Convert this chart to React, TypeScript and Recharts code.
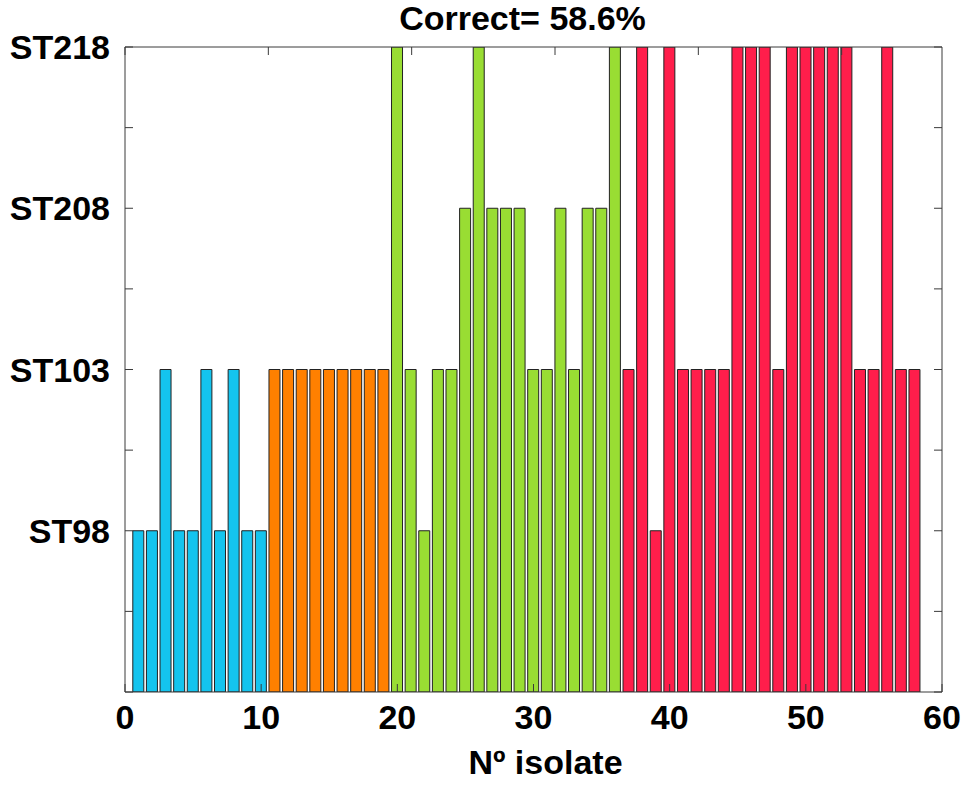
import { BarChart, Bar, XAxis, YAxis, Cell } from 'recharts'

// sequence type per isolate, grouped by predicted cluster (1 = ST98 ... 4 = ST218)
const clusterBlue = [1, 1, 2, 1, 1, 2, 1, 2, 1, 1]
const clusterOrange = [2, 2, 2, 2, 2, 2, 2, 2, 2]
const clusterGreen = [4, 2, 1, 2, 2, 3, 4, 3, 3, 3, 2, 2, 3, 2, 3, 3, 4]
const clusterRed = [2, 4, 1, 4, 2, 2, 2, 2, 4, 4, 4, 2, 4, 4, 4, 4, 4, 2, 2, 4, 2, 2]

const ST_LABELS = ['', 'ST98', 'ST103', 'ST208', 'ST218']
const Y_TICKS = [0, 0.5, 1, 1.5, 2, 2.5, 3, 3.5, 4]
const X_TICKS = [0, 10, 20, 30, 40, 50, 60]

const COLORS = {
  blue: '#14c4ee',
  orange: '#ff8000',
  green: '#99dd33',
  red: '#ff1e4b',
}

const groups: [number[], string][] = [
  [clusterBlue, COLORS.blue],
  [clusterOrange, COLORS.orange],
  [clusterGreen, COLORS.green],
  [clusterRed, COLORS.red],
]

const data = groups
  .flatMap(([vals, color]) => vals.map((st) => ({ st, color })))
  .map((d, i) => ({ ...d, isolate: i + 1 }))

const FONT = '"Liberation Sans", Arial, sans-serif'
const AXIS_COLOR = '#3a3a3a'
const textStyle = { fontSize: 34, fontWeight: 700, fill: '#000', fontFamily: FONT }

function formatST(v: number): string {
  return Number.isInteger(v) ? ST_LABELS[v] : ''
}

const blank = () => ''

export default function App() {
  return (
    <div style={{ position: 'absolute', left: 0, top: 0, background: '#fff' }}>
      <BarChart
        width={970}
        height={785}
        data={data}
        margin={{ top: 46, right: 27, left: 0, bottom: 0 }}
        style={{ fontFamily: FONT }}
      >
        <XAxis
          dataKey="isolate"
          type="number"
          domain={[0, 60]}
          allowDataOverflow
          ticks={X_TICKS}
          height={93}
          tickSize={-8}
          tickMargin={21}
          tick={textStyle}
          stroke={AXIS_COLOR}
          label={{
            value: 'Nº isolate',
            position: 'insideBottom',
            offset: 11,
            dx: 12,
            style: textStyle,
          }}
        />
        <XAxis
          xAxisId="top"
          orientation="top"
          type="number"
          domain={[0, 60]}
          allowDataOverflow
          ticks={X_TICKS}
          height={1}
          tickSize={-8}
          tickFormatter={blank}
          stroke={AXIS_COLOR}
          label={{
            value: 'Correct= 58.6%',
            position: 'top',
            offset: 16,
            dx: -11,
            style: textStyle,
          }}
        />
        <YAxis
          type="number"
          domain={[0, 4]}
          allowDataOverflow
          ticks={Y_TICKS}
          width={125}
          tickSize={-8}
          tickMargin={23}
          tickFormatter={formatST}
          tick={textStyle}
          stroke={AXIS_COLOR}
        />
        <YAxis
          yAxisId="right"
          orientation="right"
          type="number"
          domain={[0, 4]}
          allowDataOverflow
          ticks={Y_TICKS}
          width={1}
          tickSize={-8}
          tickFormatter={blank}
          stroke={AXIS_COLOR}
        />
        <Bar dataKey="st" barSize={11} stroke="#222" strokeWidth={1} isAnimationActive={false}>
          {data.map((d) => (
            <Cell key={d.isolate} fill={d.color} />
          ))}
        </Bar>
      </BarChart>
    </div>
  )
}
